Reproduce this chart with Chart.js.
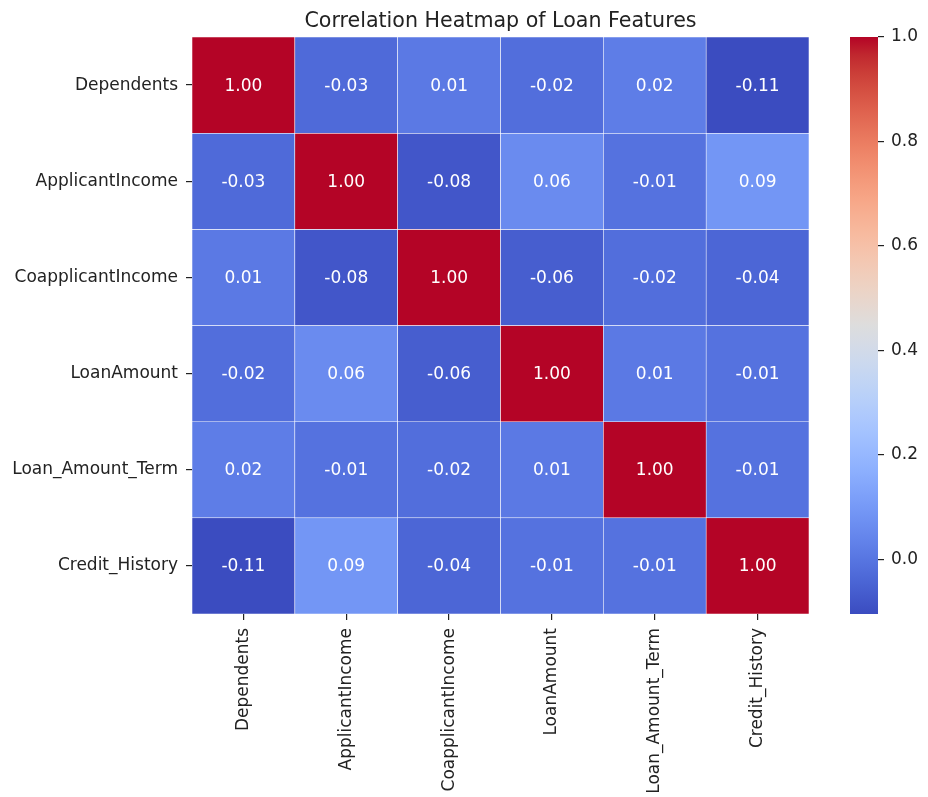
<!DOCTYPE html>
<html>
<head>
<meta charset="utf-8">
<title>Correlation Heatmap of Loan Features</title>
<script src="https://cdn.jsdelivr.net/npm/chart.js@4.4.1/dist/chart.umd.min.js"></script>
<style>
  html, body { margin: 0; padding: 0; background: #fff; }
  #wrap { position: relative; width: 928px; height: 797px; }
  #heat { position: absolute; left: 0; top: 0; }
  #cbar { position: absolute; left: 840px; top: 0; }
</style>
</head>
<body>
<div id="wrap">
  <canvas id="heat" width="928" height="797"></canvas>
  <canvas id="cbar" width="88" height="797"></canvas>
</div>
<script>
const features = ['Dependents', 'ApplicantIncome', 'CoapplicantIncome', 'LoanAmount', 'Loan_Amount_Term', 'Credit_History'];

// one array per row of the correlation matrix
const rowDependents       = [ 1.00, -0.03,  0.01, -0.02,  0.02, -0.11];
const rowApplicantIncome  = [-0.03,  1.00, -0.08,  0.06, -0.01,  0.09];
const rowCoapplicant      = [ 0.01, -0.08,  1.00, -0.06, -0.02, -0.04];
const rowLoanAmount       = [-0.02,  0.06, -0.06,  1.00,  0.01, -0.01];
const rowLoanTerm         = [ 0.02, -0.01, -0.02,  0.01,  1.00, -0.01];
const rowCreditHistory    = [-0.11,  0.09, -0.04, -0.01, -0.01,  1.00];
const matrix = [rowDependents, rowApplicantIncome, rowCoapplicant, rowLoanAmount, rowLoanTerm, rowCreditHistory];

const colorbarTicks = [0.0, 0.2, 0.4, 0.6, 0.8, 1.0];
const vmin = -0.105;
const vmax = 1.0;

// matplotlib "coolwarm" control points
const coolwarm = [
  [59,76,192],[68,90,204],[77,104,215],[87,117,225],[98,130,234],[108,142,241],
  [119,154,247],[130,165,251],[141,176,254],[152,185,255],[163,194,255],[174,201,253],
  [184,208,249],[194,213,244],[204,217,238],[213,219,230],[221,221,221],[229,216,209],
  [236,211,197],[241,204,185],[245,196,173],[247,187,160],[247,177,148],[247,166,135],
  [244,154,123],[241,141,111],[236,127,99],[229,112,88],[222,96,77],[213,80,66],
  [203,62,56],[192,40,47],[180,4,38]
];

function cmap(t) {
  t = Math.max(0, Math.min(1, t));
  const pos = t * (coolwarm.length - 1);
  const i = Math.min(Math.floor(pos), coolwarm.length - 2);
  const f = pos - i;
  const a = coolwarm[i], b = coolwarm[i + 1];
  const c = a.map((v, k) => Math.round(v + (b[k] - v) * f));
  return 'rgb(' + c.join(',') + ')';
}
function colorFor(v) {
  return cmap((v - vmin) / (vmax - vmin));
}

const FONT = "'DejaVu Sans', sans-serif";
Chart.defaults.font.family = FONT;
Chart.defaults.color = '#222';

// writes the value in the middle of each cell
const cellLabels = {
  id: 'cellLabels',
  afterDatasetsDraw(chart) {
    const ctx = chart.ctx;
    ctx.save();
    ctx.font = '17px ' + FONT;
    ctx.fillStyle = '#fff';
    ctx.textAlign = 'center';
    ctx.textBaseline = 'middle';
    chart.data.datasets.forEach((ds, di) => {
      const meta = chart.getDatasetMeta(di);
      meta.data.forEach((bar, i) => {
        const p = bar.getProps(['x', 'y', 'base'], true);
        ctx.fillText(ds.values[i].toFixed(2), p.x, (p.y + p.base) / 2 + 1);
      });
    });
    ctx.restore();
  }
};

// title centred over the grid, like matplotlib's axes title
const gridTitle = {
  id: 'gridTitle',
  afterDraw(chart, args, opts) {
    const a = chart.chartArea;
    const ctx = chart.ctx;
    ctx.save();
    ctx.font = '20.6px ' + FONT;
    ctx.fillStyle = '#222';
    ctx.textAlign = 'center';
    ctx.textBaseline = 'alphabetic';
    ctx.fillText(opts.text, (a.left + a.right) / 2, a.top - 10);
    ctx.restore();
  }
};

const datasets = matrix.map((row, r) => ({
  label: features[r],
  values: row,
  data: row.map(() => [r, r + 1]),
  backgroundColor: row.map(colorFor),
  borderColor: '#fff',
  borderWidth: 0.6,
  borderSkipped: false,
  grouped: false,
  barPercentage: 1,
  categoryPercentage: 1
}));

new Chart(document.getElementById('heat'), {
  type: 'bar',
  data: { labels: features, datasets: datasets },
  plugins: [cellLabels, gridTitle],
  options: {
    responsive: false,
    animation: false,
    layout: { padding: { left: 0, right: 119, top: 37, bottom: 0 } },
    plugins: {
      legend: { display: false },
      tooltip: { enabled: false },
      title: { display: false },
      gridTitle: { text: 'Correlation Heatmap of Loan Features' }
    },
    scales: {
      x: {
        type: 'category',
        offset: true,
        border: { display: false },
        grid: { display: true, offset: false, drawOnChartArea: false, drawTicks: true, tickLength: 6, color: '#222', lineWidth: 1.2 },
        ticks: { minRotation: 90, maxRotation: 90, padding: 8, font: { size: 17 }, color: '#222' },
        afterFit(scale) { scale.height = 183; }
      },
      y: {
        type: 'linear',
        min: 0,
        max: 6,
        reverse: true,
        border: { display: false },
        grid: { display: true, drawOnChartArea: false, drawTicks: true, tickLength: 6, color: '#222', lineWidth: 1.2 },
        afterBuildTicks(scale) {
          scale.ticks = features.map((f, i) => ({ value: i + 0.5 }));
        },
        ticks: {
          padding: 8,
          font: { size: 17 },
          color: '#222',
          callback: (value) => features[Math.floor(value)]
        },
        afterFit(scale) { scale.width = 192; }
      }
    }
  }
});

// colour bar
new Chart(document.getElementById('cbar'), {
  type: 'bar',
  data: {
    labels: ['cbar'],
    datasets: [{
      data: [[vmin, vmax]],
      borderWidth: 0,
      barPercentage: 1,
      categoryPercentage: 1,
      backgroundColor(context) {
        const area = context.chart.chartArea;
        if (!area) return null;
        const g = context.chart.ctx.createLinearGradient(0, area.bottom, 0, area.top);
        coolwarm.forEach((c, i) => g.addColorStop(i / (coolwarm.length - 1), 'rgb(' + c.join(',') + ')'));
        return g;
      }
    }]
  },
  options: {
    responsive: false,
    animation: false,
    layout: { padding: { left: 10, right: 0, top: 37, bottom: 183 } },
    plugins: { legend: { display: false }, tooltip: { enabled: false } },
    scales: {
      x: { display: false },
      y: {
        type: 'linear',
        position: 'right',
        min: vmin,
        max: vmax,
        border: { display: false },
        grid: { display: true, drawOnChartArea: false, drawTicks: true, tickLength: 6, color: '#222', lineWidth: 1.2 },
        afterBuildTicks(scale) {
          scale.ticks = colorbarTicks.map(v => ({ value: v }));
        },
        ticks: {
          padding: 7,
          font: { size: 17 },
          color: '#222',
          callback: (value) => value.toFixed(1)
        },
        afterFit(scale) { scale.width = 50; }
      }
    }
  }
});
</script>
</body>
</html>
